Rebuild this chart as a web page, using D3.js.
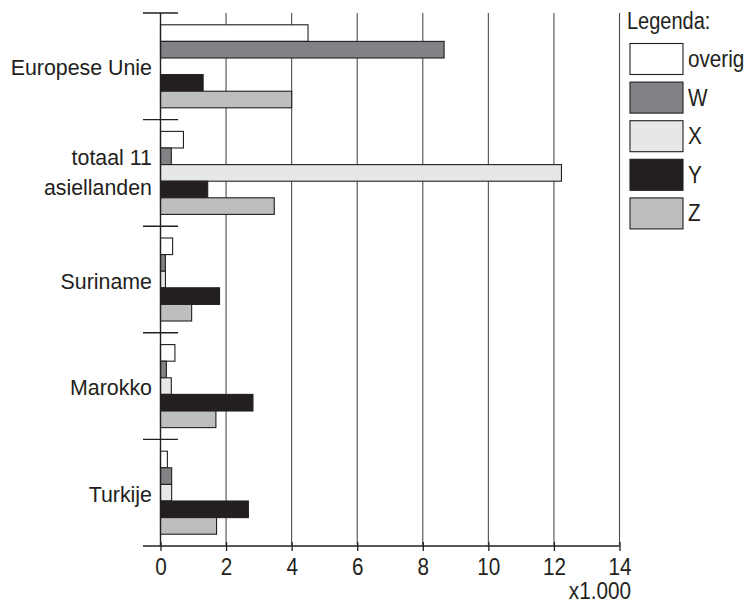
<!DOCTYPE html>
<html><head><meta charset="utf-8">
<script src="https://cdn.jsdelivr.net/npm/d3@7/dist/d3.min.js"></script>
<style>body{margin:0;background:#fff}svg{display:block}</style>
</head><body>
<svg id="c" width="750" height="605"></svg>
<script>
const categories = ["Europese Unie", "totaal 11\nasiellanden", "Suriname", "Marokko", "Turkije"];
const seriesNames = ["overig", "W", "X", "Y", "Z"];
const seriesColors = ["#ffffff", "#808285", "#e6e7e8", "#231f20", "#bcbec0"];
const overig = [4.5, 0.7, 0.37, 0.44, 0.21];
const W = [8.65, 0.33, 0.15, 0.18, 0.34];
const X = [0, 12.23, 0.15, 0.33, 0.34];
const Y = [1.3, 1.44, 1.8, 2.82, 2.68];
const Z = [4.0, 3.47, 0.95, 1.69, 1.71];
const xTicks = [0, 2, 4, 6, 8, 10, 12, 14];
const unitLabel = "x1.000";
const legendTitle = "Legenda:";

const values = [overig, W, X, Y, Z];
const svg = d3.select("#c");
const FONT = "'Liberation Sans', Arial, sans-serif";
const FS = 23, SX = 0.9;
const ink = "#231f20";

const x = d3.scaleLinear().domain([0, 14]).range([160.5, 619.5]);
const y = d3.scaleBand().domain(categories).range([13, 546]).paddingInner(0).paddingOuter(0);
const ys = d3.scaleBand().domain(seriesNames).range([0, y.bandwidth()]).paddingInner(0).paddingOuter(0.71);

function txt(g, s, tx, ty, anchor, sx) {
  return g.append("text").attr("transform", `translate(${tx},${ty}) scale(${sx || SX},1)`)
    .attr("text-anchor", anchor).attr("font-family", FONT).attr("font-size", FS)
    .attr("fill", ink).text(s);
}

// gridlines
svg.append("g").selectAll("line").data(xTicks.filter(d => d > 0)).join("line")
  .attr("x1", d => x(d)).attr("x2", d => x(d)).attr("y1", 13).attr("y2", 546)
  .attr("stroke", "#4d4d4d").attr("stroke-width", 1.1);

// bars
const gb = svg.append("g");
categories.forEach((c, ci) => {
  seriesNames.forEach((s, si) => {
    const v = values[si][ci];
    if (v <= 0) return;
    gb.append("rect")
      .attr("x", x(0)).attr("y", y(c) + ys(s))
      .attr("width", x(v) - x(0)).attr("height", ys.bandwidth())
      .attr("fill", seriesColors[si]).attr("stroke", ink).attr("stroke-width", 1.1);
  });
});

// x axis
const xa = svg.append("g").attr("transform", "translate(0,546)")
  .call(d3.axisBottom(x).tickValues(xTicks).tickSize(5).tickPadding(6).tickFormat(d3.format("d")));
xa.select(".domain").remove();
xa.selectAll(".tick line").attr("stroke", ink).attr("stroke-width", 1.3).attr("y1", -4);
xa.selectAll(".tick text").remove();
xa.selectAll(".tick").each(function(d) { txt(d3.select(this), String(d), 0, 29, "middle"); });
svg.append("line").attr("x1", 143).attr("x2", 619.5).attr("y1", 546).attr("y2", 546)
  .attr("stroke", ink).attr("stroke-width", 1.4);
txt(svg, unitLabel, 631, 599, "end");

// y axis
svg.append("line").attr("x1", x(0)).attr("x2", x(0)).attr("y1", 13).attr("y2", 546)
  .attr("stroke", ink).attr("stroke-width", 1.4);
const bounds = categories.map(c => y(c));
svg.append("g").selectAll("line").data(bounds).join("line")
  .attr("x1", 143).attr("x2", 178).attr("y1", d => d).attr("y2", d => d)
  .attr("stroke", ink).attr("stroke-width", 1.4);

// category labels
categories.forEach(c => {
  const lines = c.split("\n");
  const cy = y(c) + y.bandwidth() / 2;
  lines.forEach((l, i) => {
    const yy = lines.length > 1 ? cy + (i - 0.5) * 30 + 7 : cy + 9;
    txt(svg, l, 152, yy, "end", 0.93);
  });
});

// legend
txt(svg, legendTitle, 627, 29, "start", 0.87);
const lg = svg.append("g");
seriesNames.forEach((s, i) => {
  const top = 43.5 + i * 38.6;
  lg.append("rect").attr("x", 630).attr("y", top).attr("width", 53).attr("height", 31)
    .attr("fill", seriesColors[i]).attr("stroke", ink).attr("stroke-width", 1.1);
  txt(lg, s, 688, top + 23.5, "start");
});
</script>
</body></html>
